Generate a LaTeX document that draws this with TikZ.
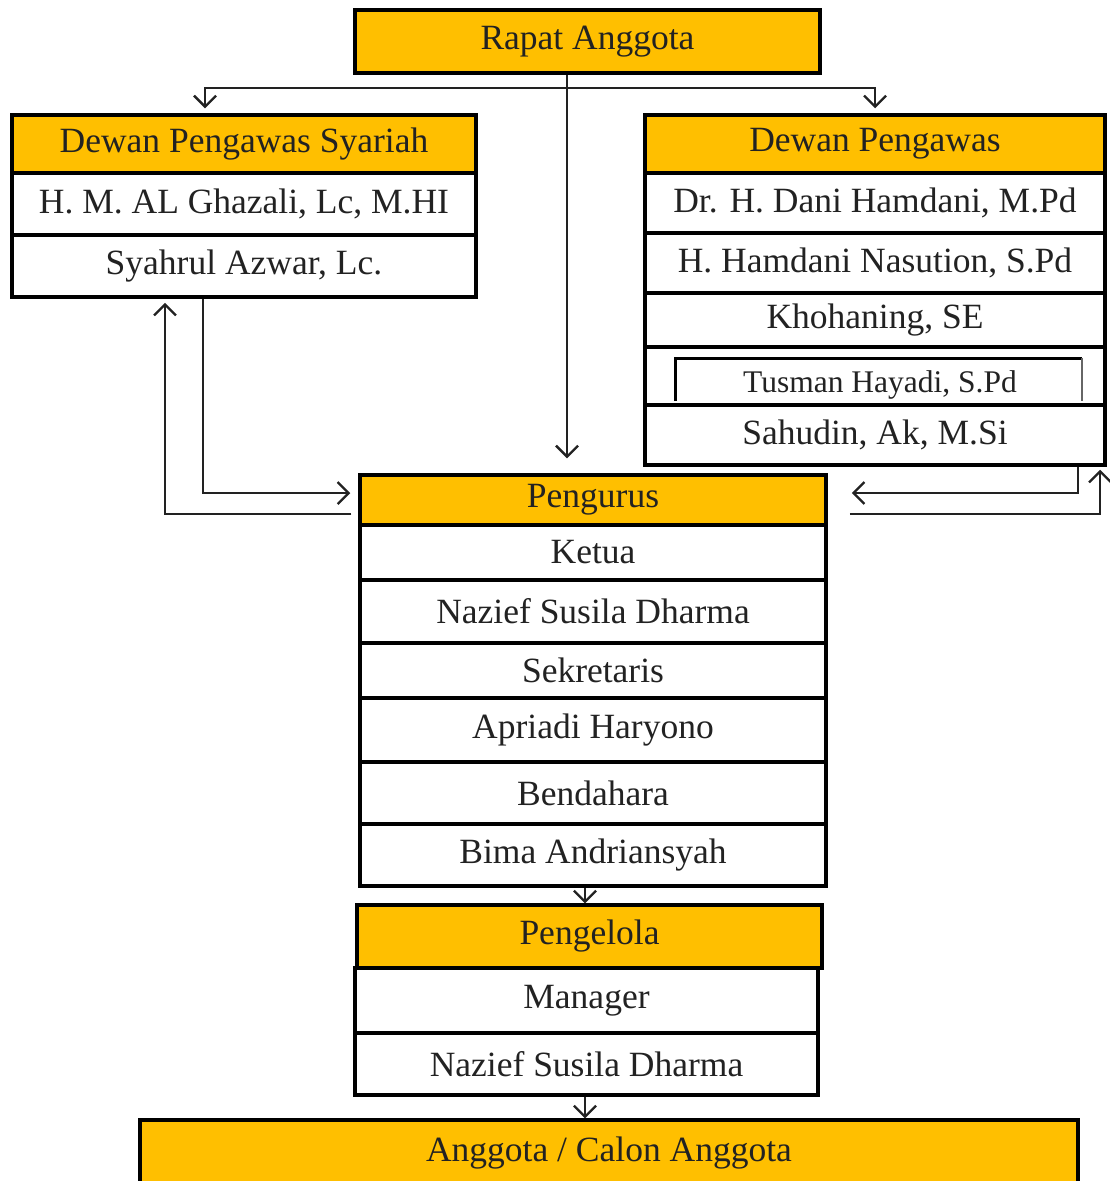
\documentclass[tikz,border=0pt]{standalone}
\usepackage{fontspec}
\setmainfont{Liberation Serif}
\usetikzlibrary{arrows.meta}
\definecolor{gold}{HTML}{FFBF00}
\definecolor{ink}{HTML}{222222}
\tikzset{
  cell/.style={draw=black, line width=3.5pt, fill=white, inner sep=0pt, text=ink,
    font=\fontsize{35.5}{38}\selectfont},
  hdr/.style={cell, fill=gold},
  conn/.style={draw=ink, line width=2.3pt},
  tip/.style={-{Straight Barb[length=11pt,width=22pt,line width=2.3pt]}},
}
\newcommand\orgcell[7]{%
  \node[#6, minimum width=#4pt-#2pt, minimum height=#5pt-#3pt]
    (#1) at ({(#2+#4)/2},{(#3+#5)/2}) {#7};}
\begin{document}
\begin{tikzpicture}[x=1pt,y=-1pt]
\useasboundingbox[fill=white] (0,0) rectangle (1109,1181);
% top
\orgcell{rapat}{355}{10}{820}{73}{hdr}{Rapat Anggota}
% Dewan Pengawas Syariah
\orgcell{dpsh}{12}{115}{476}{173}{hdr}{Dewan Pengawas Syariah}
\orgcell{dpsa}{12}{173}{476}{235}{cell}{H. M. AL Ghazali, Lc, M.HI}
\orgcell{dpsb}{12}{235}{476}{297}{cell}{Syahrul Azwar, Lc.}
% Dewan Pengawas
\orgcell{dph}{645}{115}{1105}{173}{hdr}{Dewan Pengawas}
\orgcell{dpa}{645}{173}{1105}{233}{cell}{Dr. H. Dani Hamdani, M.Pd}
\orgcell{dpb}{645}{233}{1105}{293}{cell}{H. Hamdani Nasution, S.Pd}
\orgcell{dpc}{645}{293}{1105}{347}{cell}{Khohaning, SE}
\orgcell{dpd}{645}{347}{1105}{405}{cell}{}
\orgcell{dpe}{645}{405}{1105}{465}{cell}{Sahudin, Ak, M.Si}
\draw[line width=3pt] (675,401) -- (675,358) -- (1082,358);
\draw[line width=1.5pt, black!60] (1082,358) -- (1082,401);
\node[text=ink, font=\fontsize{31.5}{34}\selectfont] (tusman) at (880,385) {Tusman Hayadi, S.Pd};
% Pengurus
\orgcell{pgh}{360}{475}{826}{525}{hdr}{Pengurus}
\orgcell{pga}{360}{525}{826}{580}{cell}{Ketua}
\orgcell{pgb}{360}{580}{826}{643}{cell}{Nazief Susila Dharma}
\orgcell{pgc}{360}{643}{826}{698}{cell}{Sekretaris}
\orgcell{pgd}{360}{698}{826}{762}{cell}{Apriadi Haryono}
\orgcell{pge}{360}{762}{826}{824}{cell}{Bendahara}
\orgcell{pgf}{360}{824}{826}{886}{cell}{Bima Andriansyah}
% Pengelola
\orgcell{plh}{357}{905}{822}{968}{hdr}{Pengelola}
\orgcell{pla}{355}{968}{818}{1033}{cell}{Manager}
\orgcell{plb}{355}{1033}{818}{1095}{cell}{Nazief Susila Dharma}
% Anggota
\orgcell{agt}{140}{1120}{1078}{1186}{hdr}{Anggota / Calon Anggota}
% connectors
\coordinate (bus) at ([xshift=-20.5pt]rapat.south |- 0,88);
\draw[conn] ([xshift=-20.5pt]rapat.south) -- (bus);
\draw[conn,tip,shorten >=15pt] (bus) -- (bus |- pgh.north);
\draw[conn,tip,shorten >=5pt] (bus) -| ([xshift=-39pt]dpsh.north);
\draw[conn,tip,shorten >=5pt] (bus) -| (dph.north);
\draw[conn,tip,shorten >=8pt] ([xshift=-41pt]dpsb.south) |- ([yshift=7pt]pgh.west);
\draw[conn,tip,shorten >=4pt,shorten <=7pt] ([yshift=-14pt]pgh.west) -| ([xshift=-79pt]dpsb.south);
\draw[conn,tip,shorten >=24pt] ([xshift=203pt]dpe.south) |- ([yshift=7pt]pgh.east);
\draw[conn,tip,shorten >=3pt,shorten <=22pt] ([yshift=-14pt]pgh.east) -| ([xshift=225pt]dpe.south);
\draw[conn,tip] ([xshift=-8pt]pgf.south) -- ([xshift=-8pt]pgf.south |- plh.north);
\draw[conn,tip] ([xshift=-1.5pt]plb.south) -- ([xshift=-1.5pt]plb.south |- agt.north);
\end{tikzpicture}
\end{document}
